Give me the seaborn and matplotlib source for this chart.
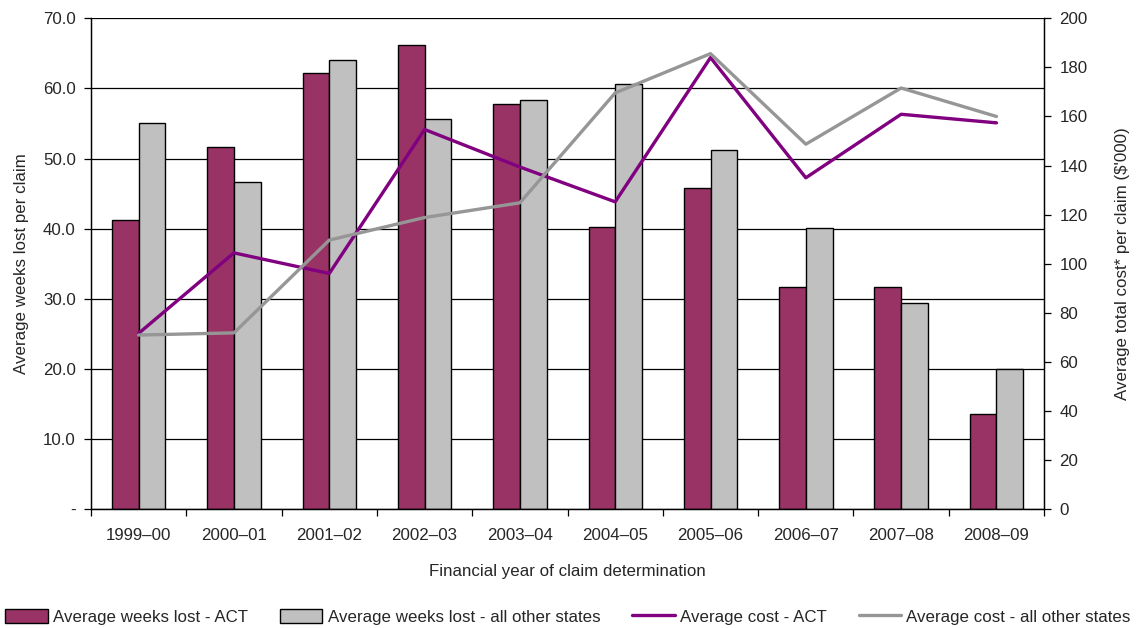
import matplotlib
matplotlib.use("Agg")
import matplotlib.pyplot as plt
from matplotlib.patches import Patch
from matplotlib.lines import Line2D
import seaborn as sns
import pandas as pd

# Financial years of claim determination
years = ["1999–00", "2000–01", "2001–02", "2002–03", "2003–04",
         "2004–05", "2005–06", "2006–07", "2007–08", "2008–09"]

# Average weeks lost per claim
weeks_act = [41.2, 51.7, 62.2, 66.2, 57.8, 40.2, 45.8, 31.7, 31.6, 13.5]
weeks_other = [55.0, 46.7, 64.0, 55.6, 58.3, 60.6, 51.2, 40.1, 29.4, 20.0]

# Average total cost per claim ($'000)
cost_act = [71.6, 104.4, 96.0, 154.7, 139.4, 125.2, 184.0, 135.0, 160.9, 157.4]
cost_other = [70.9, 71.8, 109.6, 118.8, 124.8, 169.6, 185.6, 148.7, 171.6, 160.0]

left_ticks = [0, 10, 20, 30, 40, 50, 60, 70]
left_tick_labels = ["-", "10.0", "20.0", "30.0", "40.0", "50.0", "60.0", "70.0"]
right_ticks = [0, 20, 40, 60, 80, 100, 120, 140, 160, 180, 200]

lbl_weeks_act = "Average weeks lost - ACT"
lbl_weeks_other = "Average weeks lost - all other states"
lbl_cost_act = "Average cost - ACT"
lbl_cost_other = "Average cost - all other states"

C_ACT_BAR = "#993366"
C_OTHER_BAR = "#C0C0C0"
C_ACT_LINE = "#800080"
C_OTHER_LINE = "#969696"

sns.set_theme(style="white")
plt.rcParams["font.family"] = ["Liberation Sans", "DejaVu Sans"]
FS = 12.2

weeks_df = pd.DataFrame({
    "year": years * 2,
    "weeks": weeks_act + weeks_other,
    "series": [lbl_weeks_act] * len(years) + [lbl_weeks_other] * len(years),
})
cost_df = pd.DataFrame({
    "year": years * 2,
    "cost": cost_act + cost_other,
    "series": [lbl_cost_act] * len(years) + [lbl_cost_other] * len(years),
})

fig = plt.figure(figsize=(11.36, 6.28), dpi=100)
ax = fig.add_axes([0.0801, 0.1895, 0.8390, 0.7813])

sns.barplot(data=weeks_df, x="year", y="weeks", hue="series", ax=ax,
            palette=[C_ACT_BAR, C_OTHER_BAR], width=0.56, gap=0,
            edgecolor="black", linewidth=1.0, saturation=1, legend=False)

ax.set_ylim(0, 70)
ax.set_yticks(left_ticks)
ax.set_yticklabels(left_tick_labels)
ax.yaxis.grid(True, color="black", linewidth=0.9)
ax.set_axisbelow(True)
ax.set_xlim(-0.5, len(years) - 0.5)

# Category boundaries carry the tick marks; labels sit at the centres
ax.set_xticks([i - 0.5 for i in range(len(years) + 1)])
ax.set_xticklabels([])
ax.set_xticks(range(len(years)), minor=True)
ax.set_xticklabels(years, minor=True)
ax.tick_params(axis="x", which="major", direction="out", length=5, width=0.9,
               color="black", bottom=True)
ax.tick_params(axis="x", which="minor", length=0, pad=14, labelsize=FS)
ax.tick_params(axis="y", direction="out", length=5, width=0.9, color="black",
               left=True, labelsize=FS, pad=6)
ax.set_xlabel("Financial year of claim determination", fontsize=FS, labelpad=15)
ax.set_ylabel("Average weeks lost per claim", fontsize=FS, labelpad=10)

ax2 = ax.twinx()
sns.lineplot(data=cost_df, x="year", y="cost", hue="series", ax=ax2,
             palette=[C_ACT_LINE, C_OTHER_LINE], linewidth=2.4, legend=False,
             sort=False)
ax2.set_ylim(0, 200)
ax2.set_yticks(right_ticks)
ax2.tick_params(axis="y", direction="out", length=5, width=0.9, color="black",
                right=True, labelsize=FS, pad=6)
ax2.set_ylabel("Average total cost* per claim ($'000)", fontsize=FS, labelpad=20)
ax2.set_xlim(-0.5, len(years) - 0.5)

for a in (ax, ax2):
    for side in ("left", "right", "bottom"):
        a.spines[side].set_visible(True)
        a.spines[side].set_color("black")
        a.spines[side].set_linewidth(0.9)
    a.spines["top"].set_visible(False)

handles = [
    Patch(facecolor=C_ACT_BAR, edgecolor="black", linewidth=1.0),
    Patch(facecolor=C_OTHER_BAR, edgecolor="black", linewidth=1.0),
    Line2D([], [], color=C_ACT_LINE, linewidth=2.4),
    Line2D([], [], color=C_OTHER_LINE, linewidth=2.4),
]
labels = [lbl_weeks_act, lbl_weeks_other, lbl_cost_act, lbl_cost_other]
fig.legend(handles, labels, loc="center", bbox_to_anchor=(0.5, 0.018),
           ncol=4, frameon=False, fontsize=FS, handlelength=2.5,
           handleheight=0.9, handletextpad=0.3, columnspacing=1.9,
           borderpad=0.1)

fig.savefig("out.png", dpi=100)
